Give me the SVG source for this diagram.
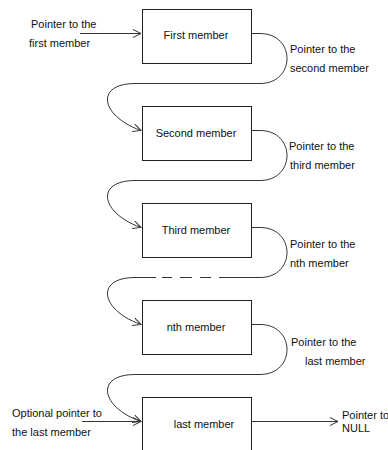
<svg xmlns="http://www.w3.org/2000/svg" width="388" height="450" viewBox="0 0 388 450">
<style>
.box{fill:#fff;stroke:#222;stroke-width:1}
.t{font-family:"Liberation Sans",Arial,sans-serif;font-size:11px;fill:#111}
.c{text-anchor:middle}
.ln{fill:none;stroke:#333;stroke-width:1}
</style>
<defs>
<marker id="ah" markerUnits="userSpaceOnUse" markerWidth="10" markerHeight="10" viewBox="-9 -5 10 10" refX="0" refY="0" orient="auto">
<path d="M-8,-4 L0,0 L-8,4" fill="none" stroke="#333" stroke-width="1"/>
</marker>
</defs>
<rect width="388" height="450" fill="#fff"/>
<g id="n1"><rect class="box" x="142.5" y="9.5" width="109" height="54"/><text class="t c" x="196" y="39">First member</text></g>
<g id="n2"><rect class="box" x="142.5" y="106.5" width="109" height="54"/><text class="t c" x="196" y="137">Second member</text></g>
<g id="n3"><rect class="box" x="142.5" y="203.5" width="109" height="54"/><text class="t c" x="196" y="234">Third member</text></g>
<g id="n4"><rect class="box" x="142.5" y="300.5" width="109" height="54"/><text class="t c" x="196" y="331">nth member</text></g>
<g id="n5"><rect class="box" x="142.5" y="397.5" width="109" height="60"/><text class="t c" x="204" y="428">last member</text></g>
<g id="connectors">
<path class="ln" d="M80,33.5 H141" marker-end="url(#ah)"/>
<path class="ln" d="M252,33.5 H260 C296,33.5 296,83.5 260,83.5 H135 C95,83.5 100,116 141,130.5" marker-end="url(#ah)"/>
<path class="ln" d="M252,130.5 H260 C296,130.5 296,180.5 260,180.5 H135 C95,180.5 100,213 141,227.5" marker-end="url(#ah)"/>
<path class="ln" d="M252,227.5 H260 C296,227.5 296,277.5 260,277.5 H219"/>
<path class="ln" d="M162,277.5 H172 M180,277.5 H192 M200,277.5 H211"/>
<path class="ln" d="M156,277.5 H135 C95,277.5 100,310 141,324.5" marker-end="url(#ah)"/>
<path class="ln" d="M252,324.5 H260 C296,324.5 296,374.5 260,374.5 H135 C95,374.5 100,407 141,421.5" marker-end="url(#ah)"/>
<path class="ln" d="M82,421.5 H141" marker-end="url(#ah)"/>
<path class="ln" d="M252,421.5 H338" marker-end="url(#ah)"/>
</g>
<g id="labels">
<text class="t" x="31" y="28">Pointer to the</text>
<text class="t" x="29" y="47">first member</text>
<text class="t" x="290" y="53">Pointer to the</text>
<text class="t" x="290" y="72">second member</text>
<text class="t" x="289" y="150">Pointer to the</text>
<text class="t" x="290" y="169">third member</text>
<text class="t" x="290" y="248">Pointer to the</text>
<text class="t" x="290" y="267">nth member</text>
<text class="t" x="291" y="346">Pointer to the</text>
<text class="t" x="305" y="365">last member</text>
<text class="t" x="12" y="417">Optional pointer to</text>
<text class="t" x="12" y="436">the last member</text>
<text class="t" x="342" y="419">Pointer to</text>
<text class="t" x="342" y="432">NULL</text>
</g>
</svg>
